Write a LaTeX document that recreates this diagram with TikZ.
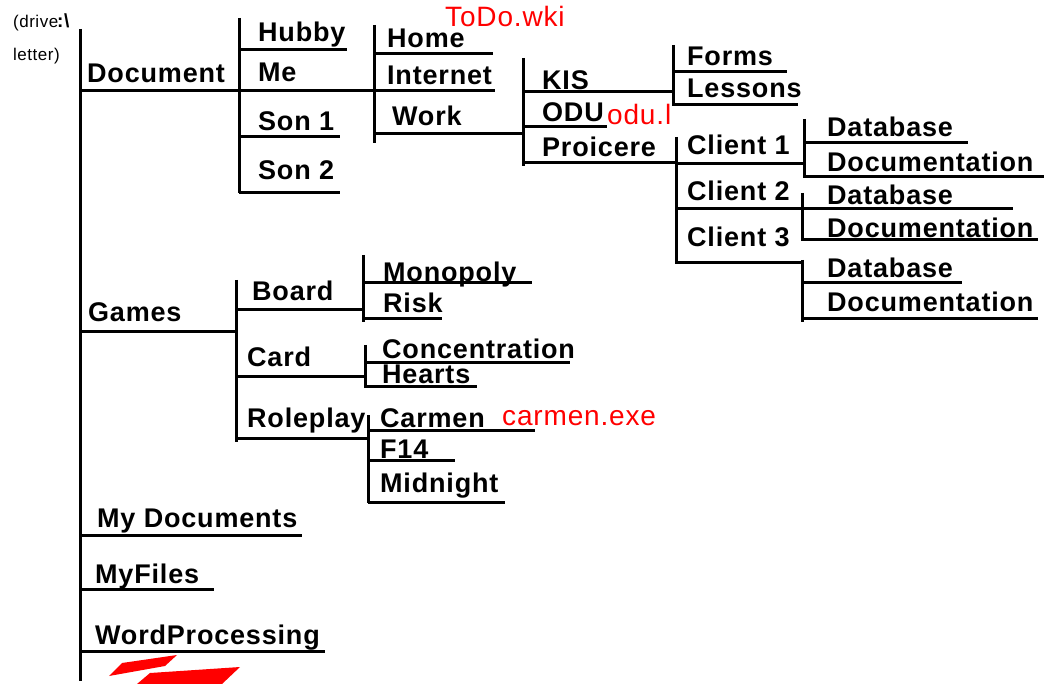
\documentclass[tikz,border=0pt]{standalone}
\usepackage{fontspec}
\setmainfont{Liberation Sans}[LetterSpace=3]
\tikzset{
    every node/.style={inner sep=0mm, anchor=base west, font=\bfseries\fontsize{27}{30}\selectfont}
}
\tikzset{branch/.style={line width=3pt}}
\tikzset{note/.style={text=red, font=\fontsize{28}{30}\selectfont}}
\tikzset{drivetag/.style={font=\fontsize{17}{18}\selectfont}}

\begin{document}
\begin{tikzpicture}[x=1pt, y=-1pt]
        \useasboundingbox (0,0) rectangle (1044,684);
        % labels
        \node (drv) [drivetag] at (13,28) {(drive};
        \node (sep) [font=\bfseries\fontsize{19}{20}\selectfont] at (57,28) {:\textbackslash};
        \node (ltr) [drivetag] at (13,61) {letter)};
        \node (doc) at (87,83) {Document};
        \node (hubby) at (258,42) {Hubby};
        \node (me) at (258,82) {Me};
        \node (son1) at (258,131) {Son 1};
        \node (son2) at (258,180) {Son 2};
        \node (home) at (387,48) {Home};
        \node (inet) at (387,85) {Internet};
        \node (work) at (392,126) {Work};
        \node (kis) at (542,90) {KIS};
        \node (odu) at (542,122) {ODU};
        \node (proi) at (542,157) {Proicere};
        \node (forms) at (687,66) {Forms};
        \node (less) at (687,98) {Lessons};
        \node (cl1) at (687,155) {Client 1};
        \node (cl2) at (687,201) {Client 2};
        \node (cl3) at (687,247) {Client 3};
        \node (db1) at (827,137) {Database};
        \node (dc1) at (827,172) {Documentation};
        \node (db2) at (827,205) {Database};
        \node (dc2) at (827,238) {Documentation};
        \node (db3) at (827,278) {Database};
        \node (dc3) at (827,312) {Documentation};
        \node (games) at (88,322) {Games};
        \node (board) at (252,301) {Board};
        \node (card) at (247,367) {Card};
        \node (role) at (247,428) {Roleplay};
        \node (mono) at (383,282) {Monopoly};
        \node (risk) at (383,313) {Risk};
        \node (conc) at (382,359) {Concentration};
        \node (hearts) at (382,384) {Hearts};
        \node (carmen) at (380,427) {Carmen};
        \node (f14) at (380,458) {F14};
        \node (mid) at (380,492) {Midnight};
        \node (mydoc) at (97,527) {My Documents};
        \node (myfiles) at (95,583) {MyFiles};
        \node (wp) at (95,644) {WordProcessing};
        % file notes
        \node (todo) [note] at (445,27) {ToDo.wki};
        \node (odufile) [note] at (607,125) {odu.l};
        \node (exe) [note] at (502,425) {carmen.exe};
        % spines
        \coordinate (root-t) at (80,29);   \coordinate (root-b) at (80,681);
        \coordinate (doc-t) at (239,18);   \coordinate (doc-b) at (239,193);
        \coordinate (me-t) at (374,25);    \coordinate (me-b) at (374,143);
        \coordinate (work-t) at (523,58);  \coordinate (work-b) at (523,166);
        \coordinate (kis-t) at (673,45);   \coordinate (kis-b) at (673,106);
        \coordinate (proi-t) at (676,137); \coordinate (proi-b) at (676,264);
        \coordinate (cl1-t) at (804,119);  \coordinate (cl1-b) at (804,178);
        \coordinate (cl2-t) at (802,193);  \coordinate (cl2-b) at (802,241);
        \coordinate (cl3-t) at (802,260);  \coordinate (cl3-b) at (802,322);
        \coordinate (games-t) at (236,280); \coordinate (games-b) at (236,442);
        \coordinate (board-t) at (363,255); \coordinate (board-b) at (363,322);
        \coordinate (card-t) at (365,345); \coordinate (card-b) at (365,388);
        \coordinate (role-t) at (368,415); \coordinate (role-b) at (368,503);
        % branch ends
        \coordinate (doc-e) at (374,91);
        \coordinate (hubby-e) at (347,50);
        \coordinate (son1-e) at (340,137);
        \coordinate (son2-e) at (340,193);
        \coordinate (home-e) at (493,54);
        \coordinate (inet-e) at (495,91);
        \coordinate (work-e) at (523,134);
        \coordinate (kis-e) at (673,92);
        \coordinate (odu-e) at (607,127);
        \coordinate (proi-e) at (676,163);
        \coordinate (forms-e) at (787,72);
        \coordinate (less-e) at (798,105);
        \coordinate (cl1-e) at (804,164);
        \coordinate (cl2-e) at (1013,209);
        \coordinate (cl3-e) at (802,263);
        \coordinate (db1-e) at (968,143);
        \coordinate (dc1-e) at (1044,177);
        \coordinate (dc2-e) at (1038,240);
        \coordinate (db3-e) at (962,283);
        \coordinate (dc3-e) at (1038,319);
        \coordinate (games-e) at (236,332);
        \coordinate (board-e) at (363,310);
        \coordinate (card-e) at (365,377);
        \coordinate (role-e) at (368,438);
        \coordinate (mono-e) at (532,283);
        \coordinate (risk-e) at (442,319);
        \coordinate (conc-e) at (570,363);
        \coordinate (hearts-e) at (477,387);
        \coordinate (carmen-e) at (535,430);
        \coordinate (f14-e) at (455,460);
        \coordinate (mid-e) at (505,502);
        \coordinate (mydoc-e) at (302,535);
        \coordinate (myfiles-e) at (214,589);
        \coordinate (wp-e) at (325,651);
        % tree lines
        \draw[branch] (root-t) -- (root-b);
        \draw[branch] (doc-t) -- (doc-b);
        \draw[branch] (me-t) -- (me-b);
        \draw[branch] (work-t) -- (work-b);
        \draw[branch] (kis-t) -- (kis-b);
        \draw[branch] (proi-t) -- (proi-b);
        \draw[branch] (cl1-t) -- (cl1-b);
        \draw[branch] (cl2-t) -- (cl2-b);
        \draw[branch] (cl3-t) -- (cl3-b);
        \draw[branch] (games-t) -- (games-b);
        \draw[branch] (board-t) -- (board-b);
        \draw[branch] (card-t) -- (card-b);
        \draw[branch] (role-t) -- (role-b);
        \draw[branch] (root-t |- doc-e) -- (doc-e);
        \draw[branch] (doc-t |- hubby-e) -- (hubby-e);
        \draw[branch] (doc-t |- son1-e) -- (son1-e);
        \draw[branch] (doc-t |- son2-e) -- (son2-e);
        \draw[branch] (me-t |- home-e) -- (home-e);
        \draw[branch] (me-t |- inet-e) -- (inet-e);
        \draw[branch] (me-t |- work-e) -- (work-e);
        \draw[branch] (work-t |- kis-e) -- (kis-e);
        \draw[branch] (work-t |- odu-e) -- (odu-e);
        \draw[branch] (work-t |- proi-e) -- (proi-e);
        \draw[branch] (kis-t |- forms-e) -- (forms-e);
        \draw[branch] (kis-t |- less-e) -- (less-e);
        \draw[branch] (proi-t |- cl1-e) -- (cl1-e);
        \draw[branch] (proi-t |- cl2-e) -- (cl2-e);
        \draw[branch] (proi-t |- cl3-e) -- (cl3-e);
        \draw[branch] (cl1-t |- db1-e) -- (db1-e);
        \draw[branch] (cl1-t |- dc1-e) -- (dc1-e);
        \draw[branch] (cl2-t |- dc2-e) -- (dc2-e);
        \draw[branch] (cl3-t |- db3-e) -- (db3-e);
        \draw[branch] (cl3-t |- dc3-e) -- (dc3-e);
        \draw[branch] (root-t |- games-e) -- (games-e);
        \draw[branch] (games-t |- board-e) -- (board-e);
        \draw[branch] (games-t |- card-e) -- (card-e);
        \draw[branch] (games-t |- role-e) -- (role-e);
        \draw[branch] (board-t |- mono-e) -- (mono-e);
        \draw[branch] (board-t |- risk-e) -- (risk-e);
        \draw[branch] (card-t |- conc-e) -- (conc-e);
        \draw[branch] (card-t |- hearts-e) -- (hearts-e);
        \draw[branch] (role-t |- carmen-e) -- (carmen-e);
        \draw[branch] (role-t |- f14-e) -- (f14-e);
        \draw[branch] (role-t |- mid-e) -- (mid-e);
        \draw[branch] (root-t |- mydoc-e) -- (mydoc-e);
        \draw[branch] (root-t |- myfiles-e) -- (myfiles-e);
        \draw[branch] (root-t |- wp-e) -- (wp-e);
        % red scribble
        \fill[red] (109,676) -- (122,663) -- (177,655) -- (165,666) -- cycle;
        \fill[red] (137,684) -- (150,673) -- (240,667) -- (222,684) -- cycle;
\end{tikzpicture}
\end{document}
